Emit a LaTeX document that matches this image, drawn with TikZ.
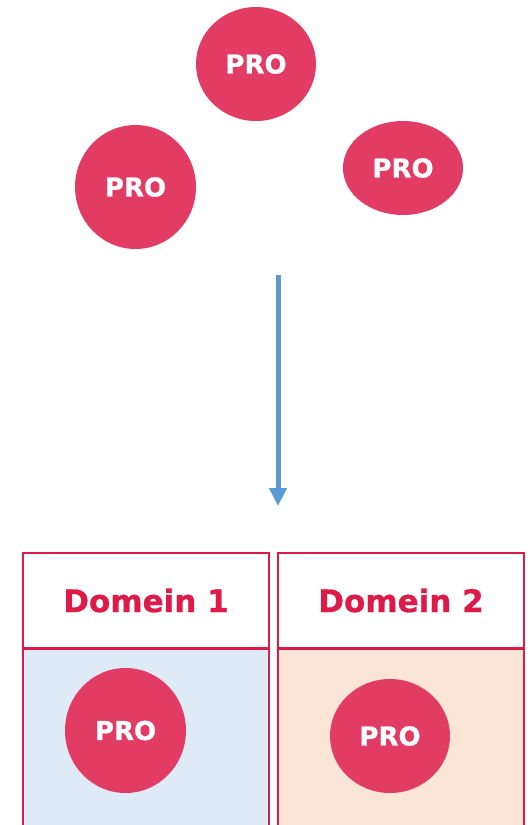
\documentclass[tikz,border=0pt]{standalone}
\usepackage{fontspec}
\setmainfont{DejaVu Sans}[BoldFeatures={FakeBold=0.8}]
\usetikzlibrary{arrows.meta,shapes.geometric}
\definecolor{pro}{RGB}{226,60,100}
\definecolor{crim}{RGB}{222,26,72}
\definecolor{lblue}{RGB}{222,234,246}
\definecolor{lpeach}{RGB}{251,229,214}
\definecolor{arrc}{RGB}{91,155,213}
\tikzset{
  proc/.style={ellipse, fill=pro, inner sep=0pt, text=white, font=\fontsize{26}{30}\selectfont\bfseries},
  hdr/.style={draw=crim, line width=2.2pt, fill=white, text=crim, font=\fontsize{31}{36}\selectfont\bfseries, minimum width=246pt, minimum height=95pt, inner sep=0pt},
  dombody/.style={draw=crim, line width=2.2pt, minimum width=246pt, minimum height=190pt, inner sep=0pt, anchor=north},
}
\begin{document}
\begin{tikzpicture}[x=1pt,y=-1pt]
\useasboundingbox (0,0) rectangle (531,825);
\clip (0,0) rectangle (531,825);
\node[proc, minimum width=120pt, minimum height=114pt] (p1) at (256,64) {PRO};
\node[proc, minimum width=121pt, minimum height=124pt] (p2) at (135.5,187) {PRO};
\node[proc, minimum width=120pt, minimum height=94pt] (p3) at (403,168) {PRO};
\coordinate (as) at (278,275);
\coordinate (ae) at (278,506);
\draw[arrc, line width=5pt, -{Triangle[length=18pt,width=17pt]}] (as) -- (ae);
\node[dombody, fill=lblue] (b1) at (146,648) {};
\node[dombody, fill=lpeach] (b2) at (401,648) {};
\node[hdr] (h1) at (146,600.5) {Domein 1};
\node[hdr] (h2) at (401,600.5) {Domein 2};
\node[proc, minimum width=121pt, minimum height=125pt] (p4) at (125.5,730.5) {PRO};
\node[proc, minimum width=120pt, minimum height=114pt] (p5) at (390,736) {PRO};
\end{tikzpicture}
\end{document}
